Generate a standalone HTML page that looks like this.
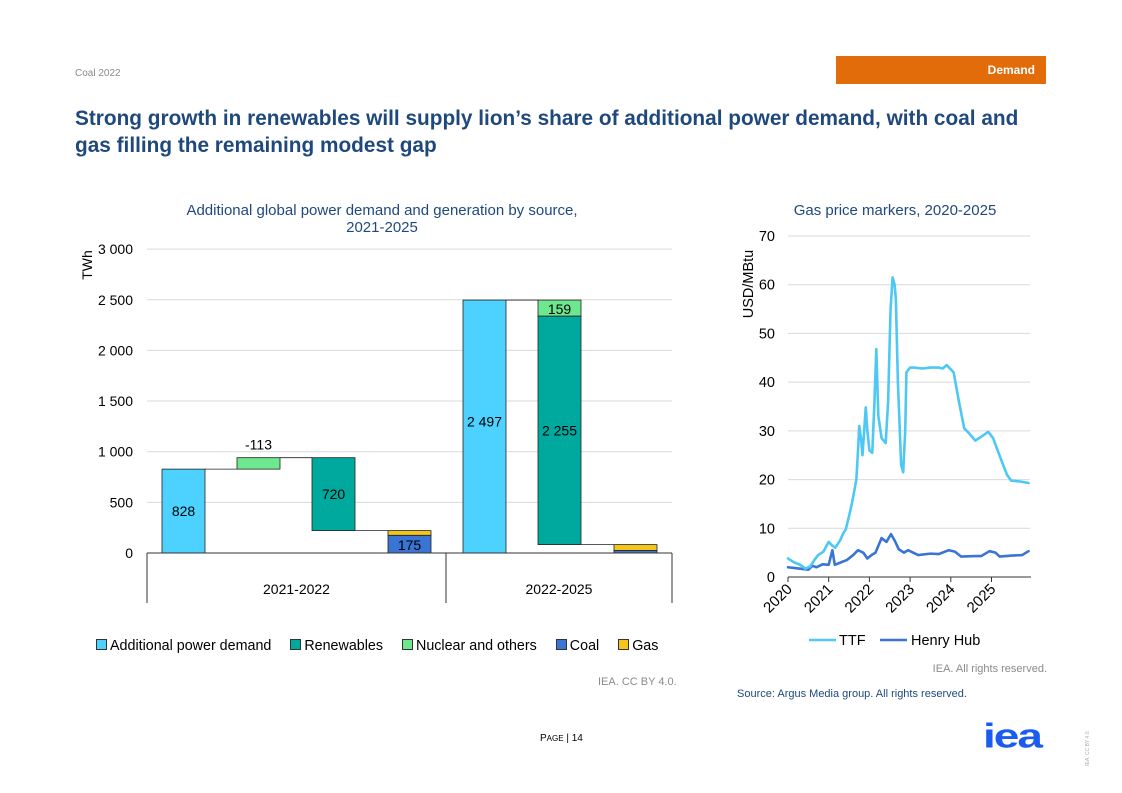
<!DOCTYPE html>
<html><head><meta charset="utf-8">
<style>
body{margin:0;width:1122px;height:793px;background:#fff;font-family:"Liberation Sans",sans-serif;position:relative;overflow:hidden}
.a{position:absolute;white-space:nowrap}
</style></head><body>
<div class="a" style="left:75px;top:68px;font-size:10px;color:#8a8a8a">Coal 2022</div>
<div class="a" style="left:836px;top:56px;width:210px;height:28px;background:#e36c0a;color:#fff;font-weight:bold;font-size:12px;line-height:28px;text-align:right;box-sizing:border-box;padding-right:11px">Demand</div>
<div class="a" style="left:75px;top:105px;font-size:20.8px;font-weight:bold;color:#1f497d;line-height:27px;white-space:normal;width:975px">Strong growth in renewables will supply lion’s share of additional power demand, with coal and gas filling the remaining modest gap</div>

<svg class="a" style="left:0;top:0" width="1122" height="793">
<g id="left"></g>
<g id="right"></g>
</svg>

<div class="a" style="left:147px;top:202px;width:470px;text-align:center;font-size:15px;color:#1f497d;line-height:17px">Additional global power demand and generation by source,<br>2021-2025</div>
<div class="a" style="left:740px;top:202px;width:310px;text-align:center;font-size:15px;color:#1f497d">Gas price markers, 2020-2025</div>

<div class="a" style="left:96px;top:638px;font-size:14.3px;color:#000">
<span><i style="display:inline-block;width:9px;height:9px;background:#4dd2ff;border:1px solid #333;margin-right:3px"></i>Additional power demand</span>
<span style="margin-left:15px"><i style="display:inline-block;width:9px;height:9px;background:#00a99d;border:1px solid #333;margin-right:3px"></i>Renewables</span>
<span style="margin-left:15px"><i style="display:inline-block;width:9px;height:9px;background:#6ee88e;border:1px solid #333;margin-right:3px"></i>Nuclear and others</span>
<span style="margin-left:15px"><i style="display:inline-block;width:9px;height:9px;background:#3a74d4;border:1px solid #333;margin-right:3px"></i>Coal</span>
<span style="margin-left:15px"><i style="display:inline-block;width:9px;height:9px;background:#f5c518;border:1px solid #333;margin-right:3px"></i>Gas</span>
</div>
<div class="a" style="left:598px;top:676px;font-size:11px;color:#8a8a8a">IEA. CC BY 4.0.</div>
<div class="a" style="right:75px;top:663px;font-size:11px;color:#8a8a8a">IEA. All rights reserved.</div>
<div class="a" style="left:737px;top:688px;font-size:11px;color:#1f497d">Source: Argus Media group. All rights reserved.</div>
<div class="a" style="left:540px;top:733px;font-size:10px;color:#000">P<span style="font-size:8px">AGE</span> | 14</div>
<div class="a" style="left:983px;top:718px;font-size:46px;font-weight:bold;color:#1a5cf0;letter-spacing:-2px;line-height:46px;transform:scaleY(0.75);transform-origin:top left">iea</div>
<div class="a" style="left:1070px;top:745px;font-size:5px;color:#aaa;transform:rotate(-90deg)">IEA. CC BY 4.0.</div>

<script>
const NS='http://www.w3.org/2000/svg';
function mk(p,t,a){const e=document.createElementNS(NS,t);for(const k in a)e.setAttribute(k,a[k]);p.appendChild(e);return e;}
// ---- waterfall ----
const yTicks=[0,500,1000,1500,2000,2500,3000];
const yTickLabels=['0','500','1 000','1 500','2 000','2 500','3 000'];
const periods=['2021-2022','2022-2025'];
const demand=[828,2497];
const nuclear=[-113,159];
const renewables=[720,2255];
const coal=[175,25];
const gas=[46,58];
const L=document.getElementById('left');
const y0=553,ys=101.3/1000,yv=v=>y0-v*ys;
const fmt=v=>String(v).replace(/\B(?=(\d{3})+(?!\d))/g,' ');
yTicks.forEach((t,i)=>{
 const g=mk(L,'line',{x1:147,x2:672,y1:yv(t),y2:yv(t),stroke:'#d9d9d9','stroke-width':1});
 
 const tx=mk(L,'text',{x:133,y:yv(t)+5,'text-anchor':'end','font-size':14,fill:'#000'});tx.textContent=yTickLabels[i];
 
});
const yt=mk(L,'text',{x:0,y:0,'font-size':14,transform:'translate(92,265) rotate(-90)','text-anchor':'middle'});yt.textContent='TWh';

const catL=[147,446],catW=[299,226];
const barW=43;
function bar(x,a,b,fill,name){const r=mk(L,'rect',{x:x,y:yv(Math.max(a,b)),width:barW,height:Math.abs(yv(a)-yv(b)),fill:fill,stroke:'#222','stroke-width':0.8});
 return r;}
function lab(x,y,t,name){const e=mk(L,'text',{x:x,y:y,'text-anchor':'middle','font-size':14,fill:'#000'});e.textContent=t;}
function conn(x1,x2,v){const l=mk(L,'line',{x1:x1,x2:x2,y1:yv(v),y2:yv(v),stroke:'#222','stroke-width':0.8});}
const xs=[[162,237,312,388],[463,538,614]];
periods.forEach((p,i)=>{
 const d=demand[i],n=nuclear[i],r=renewables[i],c=coal[i],g=gas[i];
 const X=xs[i];
 bar(X[0],0,d,'#4dd2ff','bar-demand-'+i);
 lab(X[0]+barW/2,(yv(0)+yv(d))/2+(i?0:5),fmt(d),'label-demand');
 if(i===0){
  const top=d-n;
  bar(X[1],d,top,'#6ee88e','bar-nuclear-'+i);lab(X[1]+barW/2,yv(top)-8,String(n),'label-nuclear');
  conn(X[0]+barW,X[1],d);conn(X[1]+barW,X[2],top);
  bar(X[2],top,top-r,'#00a99d','bar-renewables-'+i);lab(X[2]+barW/2,(yv(top)+yv(top-r))/2+5,String(r),'label-renewables');
  conn(X[2]+barW,X[3],top-r);
  bar(X[3],0,c,'#3a74d4','bar-coal-'+i);bar(X[3],c,c+g,'#f5c518','bar-gas-'+i);
  lab(X[3]+barW/2,(yv(0)+yv(c))/2+6,String(c),'label-coal');
 } else {
  const bot=d-n;
  conn(X[0]+barW,X[1],d);
  bar(X[1],bot,d,'#6ee88e','bar-nuclear-'+i);lab(X[1]+barW/2,(yv(bot)+yv(d))/2+6,String(n),'label-nuclear');
  bar(X[1],bot-r,bot,'#00a99d','bar-renewables-'+i);lab(X[1]+barW/2,(yv(bot)+yv(bot-r))/2+5,fmt(r),'label-renewables');
  conn(X[1]+barW,X[2],bot-r);
  bar(X[2],0,c,'#3a74d4','bar-coal-'+i);bar(X[2],c,c+g,'#f5c518','bar-gas-'+i);
 }
 const cl=mk(L,'text',{x:catL[i]+catW[i]/2,y:594,'text-anchor':'middle','font-size':14});cl.textContent=p;
 
});
[[147,553,672,553],[147,553,147,603],[446,553,446,603],[672,553,672,603]].forEach(a=>{const l=mk(L,'line',{x1:a[0],y1:a[1],x2:a[2],y2:a[3],stroke:'#333','stroke-width':1});});

// ---- gas prices ----
const gTicks=[0,10,20,30,40,50,60,70];
const yearLabels=['2020','2021','2022','2023','2024','2025'];
const ttfT=[0,0.15,0.3,0.43,0.55,0.65,0.74,0.87,1.0,1.08,1.16,1.28,1.36,1.42,1.5,1.58,1.68,1.72,1.75,1.8,1.83,1.88,1.91,1.95,2.0,2.07,2.12,2.17,2.22,2.3,2.4,2.46,2.52,2.57,2.62,2.65,2.7,2.78,2.83,2.88,2.91,3.0,3.1,3.3,3.5,3.7,3.8,3.9,3.98,4.07,4.2,4.33,4.45,4.6,4.75,4.92,5.04,5.15,5.24,5.38,5.48,5.7,5.91];
const ttfV=[3.8,3.0,2.5,1.7,2.2,3.5,4.5,5.2,7.2,6.5,6.0,7.5,9.0,9.8,12.5,15.5,20,26,31,28,25,31,34.8,30,26,25.5,35,46.8,33,28.5,27.5,36,55,61.5,60,57,40,23,21.5,30,42,43,43,42.8,43,43,42.8,43.5,42.8,42,36,30.5,29.5,28,28.8,29.8,28.5,26,24,21,19.8,19.6,19.3];
const hhT=[0,0.3,0.5,0.6,0.7,0.85,1.0,1.09,1.15,1.3,1.45,1.6,1.72,1.85,1.95,2.05,2.15,2.3,2.42,2.53,2.62,2.72,2.85,2.95,3.2,3.5,3.7,3.95,4.1,4.25,4.6,4.75,4.95,5.1,5.2,5.5,5.75,5.91];
const hhV=[2.0,1.7,1.5,2.3,2.0,2.6,2.5,5.5,2.5,3.0,3.5,4.5,5.5,5.0,3.8,4.5,5.0,8.0,7.2,8.8,7.5,5.7,5.0,5.5,4.5,4.8,4.7,5.5,5.2,4.2,4.3,4.3,5.3,5.0,4.2,4.4,4.5,5.3];
const R=document.getElementById('right');
const gx=t=>788+t*40.7,gy=v=>577-v*(341/70);
gTicks.forEach(t=>{
 if(t>0){const l=mk(R,'line',{x1:788,x2:1030,y1:gy(t),y2:gy(t),stroke:'#d9d9d9'});}
 const tx=mk(R,'text',{x:775,y:gy(t)+5,'text-anchor':'end','font-size':14.5});tx.textContent=t;
 
});
const ax=mk(R,'line',{x1:788,x2:1031,y1:577,y2:577,stroke:'#333'});
yearLabels.forEach((y,i)=>{
 const tk=mk(R,'line',{x1:gx(i),x2:gx(i),y1:577,y2:582,stroke:'#333'});
 const tx=mk(R,'text',{x:0,y:0,'text-anchor':'end','font-size':15,transform:`translate(${gx(i)+5},${590}) rotate(-45)`});tx.textContent=y;
 
});
const yt2=mk(R,'text',{x:0,y:0,'font-size':14.5,'text-anchor':'middle',transform:'translate(753,284) rotate(-90)'});yt2.textContent='USD/MBtu';

function line(T,V,col,name){const p=mk(R,'polyline',{points:T.map((t,i)=>gx(t)+','+gy(V[i])).join(' '),fill:'none',stroke:col,'stroke-width':2.6,'stroke-linejoin':'round','stroke-linecap':'round'});
 }
line(hhT,hhV,'#3a74d4','henry-hub-line');
line(ttfT,ttfV,'#4dc8f5','ttf-line');
const lg=[[809,'#4dc8f5','TTF',839],[880,'#3a74d4','Henry Hub',911]];
lg.forEach(a=>{const l=mk(R,'line',{x1:a[0],x2:a[0]+27,y1:640,y2:640,stroke:a[1],'stroke-width':2.6});
 const t=mk(R,'text',{x:a[3],y:645,'font-size':14.5});t.textContent=a[2];});
</script>
</body></html>
